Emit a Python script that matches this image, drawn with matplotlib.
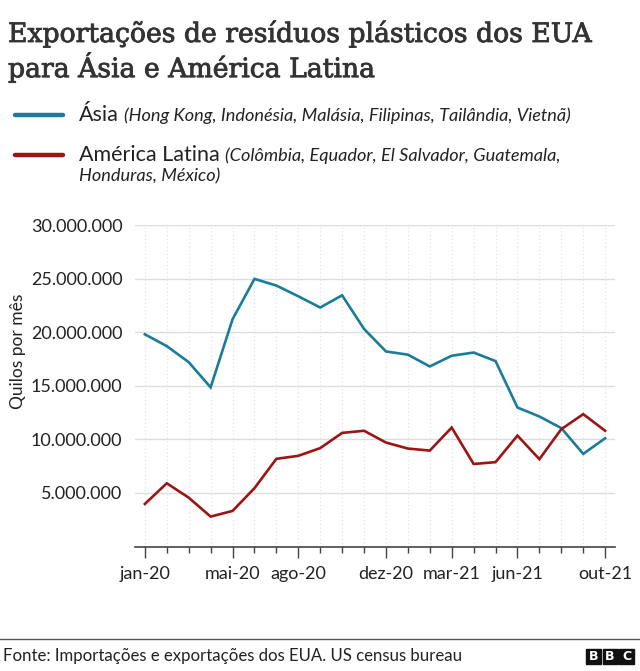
import matplotlib
matplotlib.use("Agg")
import matplotlib.pyplot as plt
import matplotlib.patheffects as pe
from matplotlib.patches import Rectangle

months = ["jan-20", "fev-20", "mar-20", "abr-20", "mai-20", "jun-20", "jul-20", "ago-20",
          "set-20", "out-20", "nov-20", "dez-20", "jan-21", "fev-21", "mar-21", "abr-21",
          "mai-21", "jun-21", "jul-21", "ago-21", "set-21", "out-21"]
asia = [19.8, 18.7, 17.2, 14.85, 21.2, 24.97, 24.35, 23.35, 22.3, 23.44, 20.3, 18.2,
        17.9, 16.8, 17.8, 18.1, 17.3, 12.97, 12.13, 11.05, 8.64, 10.1]
latam = [3.97, 5.9, 4.56, 2.79, 3.32, 5.44, 8.18, 8.46, 9.18, 10.6, 10.8, 9.7,
         9.14, 8.95, 11.1, 7.7, 7.87, 10.35, 8.15, 10.95, 12.35, 10.8]
asia = [v * 1e6 for v in asia]
latam = [v * 1e6 for v in latam]
labeled = ["jan-20", "mai-20", "ago-20", "dez-20", "mar-21", "jun-21", "out-21"]
yticks = [5e6, 10e6, 15e6, 20e6, 25e6, 30e6]

SANS = ["Lato", "DejaVu Sans"]
plt.rcParams['font.family'] = SANS

fig = plt.figure(figsize=(6.4, 6.71), dpi=100)
ax = fig.add_axes([135/640, 1-546.5/671, 480/640, (546.5-225)/671])

x = list(range(len(months)))
ax.plot(x, asia, color="#1a7c99", lw=1.9, solid_joinstyle="miter", zorder=3)
ax.plot(x, latam, color="#9b1515", lw=1.9, solid_joinstyle="miter", zorder=3)

ax.set_xlim(-0.45, len(months) - 0.55)
ax.set_ylim(0, 30e6)
ax.set_yticks(yticks)
ax.set_yticklabels([f"{int(v):,}".replace(",", ".") for v in yticks], fontsize=13, color="#222222")
for yv in yticks:
    ax.axhline(yv, color="#dddddd", lw=1, zorder=1)
for xi in x:
    ax.plot([xi, xi], [0, 30e6], color="#e3e3e3", lw=0.9, ls=(0, (1, 2)), zorder=1)

ax.set_xticks(x)
ax.set_xticklabels([m if m in labeled else "" for m in months], fontsize=13, color="#222222")
ax.tick_params(axis="x", length=4, width=1, color="#444444", pad=10)
for t, m in zip(ax.xaxis.get_major_ticks(), months):
    if m in labeled:
        t.tick1line.set_markersize(8)
ax.tick_params(axis="y", length=0, pad=9)
for s in ["top", "right", "left"]:
    ax.spines[s].set_visible(False)
ax.spines["bottom"].set_color("#444444")
ax.spines["bottom"].set_linewidth(1.2)

fig.text(18/640, 1-351/671, "Quilos por mês", rotation=90, fontsize=12.5, color="#222222",
         ha="center", va="center")

# Title
fig.text(8/640, 1-19/671, "Exportações de resíduos plásticos dos EUA\npara Ásia e América Latina",
         family=["DejaVu Serif"], fontsize=19.2, color="#333333", ha="left", va="top",
         linespacing=1.12,
         path_effects=[pe.withStroke(linewidth=0.6, foreground="#333333")])

# Legend
fig.lines.append(plt.Line2D([15/640, 63/640], [1-115/671, 1-115/671], color="#1a7c99", lw=3.2,
                            solid_capstyle="round", transform=fig.transFigure))
fig.lines.append(plt.Line2D([15/640, 63/640], [1-155/671, 1-155/671], color="#9b1515", lw=3.2,
                            solid_capstyle="round", transform=fig.transFigure))
t1 = fig.text(79/640, 1-115/671, "Ásia", fontsize=15.5, color="#222222", ha="left", va="center")
fig.canvas.draw()
r = fig.canvas.get_renderer()
bb = t1.get_window_extent(r)
fig.text((bb.x1 + 5)/640, 1-116/671, "(Hong Kong, Indonésia, Malásia, Filipinas, Tailândia, Vietnã)",
         fontsize=13.1, style="italic", color="#222222", ha="left", va="center")
t2 = fig.text(79/640, 1-155/671, "América Latina", fontsize=15.5, color="#222222", ha="left", va="center")
bb2 = t2.get_window_extent(r)
fig.text((bb2.x1 + 5)/640, 1-156/671, "(Colômbia, Equador, El Salvador, Guatemala,",
         fontsize=13.1, style="italic", color="#222222", ha="left", va="center")
fig.text(79/640, 1-176/671, "Honduras, México)",
         fontsize=13.1, style="italic", color="#222222", ha="left", va="center")

# Footer
fig.lines.append(plt.Line2D([0, 1], [1-639/671, 1-639/671], color="#555555", lw=1,
                            transform=fig.transFigure))
fig.text(3/640, 1-656/671, "Fonte: Importações e exportações dos EUA. US census bureau",
         fontsize=12.1, color="#222222", ha="left", va="center")
for i, ch in enumerate("BBC"):
    x0 = 586 + i * 16.5
    fig.patches.append(Rectangle((x0/640, 1-664/671), 15/640, 15/671, color="#111111",
                                 transform=fig.transFigure))
    fig.text((x0 + 7.5)/640, 1-656.5/671, ch, fontsize=9, weight="bold", color="white",
             ha="center", va="center", family=["DejaVu Sans"])

fig.savefig("out.png", dpi=100, facecolor="white")
